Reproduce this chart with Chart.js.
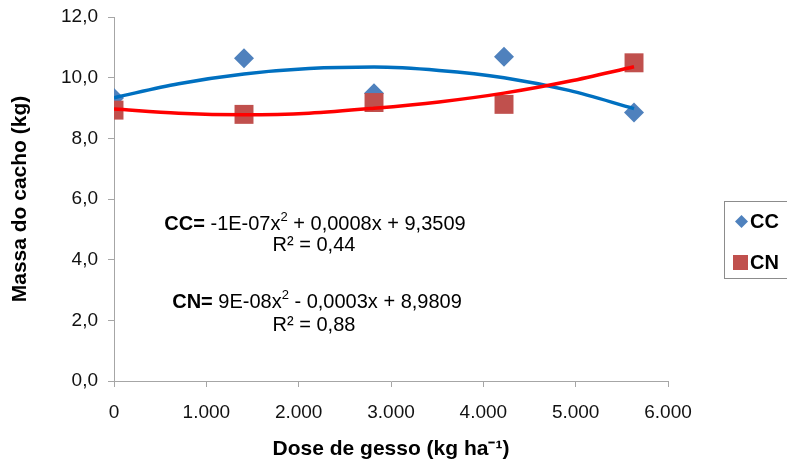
<!DOCTYPE html>
<html>
<head>
<meta charset="utf-8">
<script src="https://cdn.jsdelivr.net/npm/chart.js@4/dist/chart.umd.min.js"></script>
<style>
html,body{margin:0;padding:0;background:#fff;}
#wrap{position:relative;width:787px;height:463px;}
canvas{display:block;}
</style>
</head>
<body>
<div id="wrap"><canvas id="c" width="787" height="463"></canvas></div>
<script>
// Data
const doses = [0, 1408, 2816, 4224, 5632];
const ccValues = [9.33, 10.64, 9.49, 10.69, 8.85];
const cnValues = [8.93, 8.79, 9.18, 9.12, 10.49];
const trendX = [0, 700, 1408, 2112, 2816, 3520, 4224, 4928, 5632];
const ccTrend = [9.34, 9.80, 10.12, 10.30, 10.35, 10.24, 10.00, 9.58, 8.98];
const cnTrend = [8.97, 8.83, 8.78, 8.83, 8.99, 9.20, 9.49, 9.88, 10.36];
const seriesNames = ['CC', 'CN'];
const xTicks = [0, 1000, 2000, 3000, 4000, 5000, 6000];
const yTicks = [0, 2, 4, 6, 8, 10, 12];
const equations = [
  {name: 'CC=', eq: [' -1E-07x', '2', ' + 0,0008x + 9,3509'], r2: 'R² = 0,44'},
  {name: 'CN=', eq: [' 9E-08x', '2', ' - 0,0003x + 8,9809'], r2: 'R² = 0,88'}
];

const toXY = (xs, ys) => xs.map((x, i) => ({x: x, y: ys[i]}));
const FONT = '"Liberation Sans", Arial, sans-serif';
const fmtX = v => v === 0 ? '0' : (v / 1000).toFixed(0) + '.000';
const fmtY = v => v.toFixed(1).replace('.', ',');

const overlay = {
  id: 'overlay',
  afterDraw(chart) {
    const ctx = chart.ctx;
    ctx.save();
    ctx.fillStyle = '#000';
    ctx.textBaseline = 'middle';
    const centers = [315, 317];
    const r2c = [314, 314];
    const ys = [[224, 245], [302, 325]];
    equations.forEach((e, i) => {
      const bold = 'bold 20px ' + FONT;
      const norm = '20px ' + FONT;
      const sup = '13px ' + FONT;
      ctx.font = bold; const w0 = ctx.measureText(e.name).width;
      ctx.font = norm; const w1 = ctx.measureText(e.eq[0]).width;
      ctx.font = sup; const w2 = ctx.measureText(e.eq[1]).width;
      ctx.font = norm; const w3 = ctx.measureText(e.eq[2]).width;
      let x = centers[i] - (w0 + w1 + w2 + w3) / 2;
      const y = ys[i][0];
      ctx.textAlign = 'left';
      ctx.font = bold; ctx.fillText(e.name, x, y); x += w0;
      ctx.font = norm; ctx.fillText(e.eq[0], x, y); x += w1;
      ctx.font = sup; ctx.fillText(e.eq[1], x, y - 7); x += w2;
      ctx.font = norm; ctx.fillText(e.eq[2], x, y);
      ctx.textAlign = 'center';
      ctx.fillText(e.r2, r2c[i], ys[i][1]);
    });
    // legend
    ctx.strokeStyle = '#8c8c8c';
    ctx.lineWidth = 1;
    ctx.strokeRect(724.5, 201.5, 80, 77);
    ctx.fillStyle = '#4F81BD';
    ctx.beginPath();
    ctx.moveTo(741.5, 215); ctx.lineTo(748, 221.5); ctx.lineTo(741.5, 228); ctx.lineTo(735, 221.5); ctx.closePath();
    ctx.fill();
    ctx.fillStyle = '#C0504D';
    ctx.fillRect(733, 255, 15, 15);
    ctx.fillStyle = '#000';
    ctx.font = 'bold 20px ' + FONT;
    ctx.textAlign = 'left';
    ctx.fillText(seriesNames[0], 750, 222);
    ctx.fillText(seriesNames[1], 750, 263);
    ctx.restore();
  }
};

new Chart(document.getElementById('c'), {
  type: 'scatter',
  data: {
    datasets: [
      {label: 'CN trend', data: toXY(trendX, cnTrend), showLine: true, borderColor: '#FF0000', borderWidth: 3.5, pointRadius: 0, tension: 0.4, cubicInterpolationMode: 'monotone', order: 0},
      {label: 'CC trend', data: toXY(trendX, ccTrend), showLine: true, borderColor: '#0070C0', borderWidth: 3.5, pointRadius: 0, tension: 0.4, cubicInterpolationMode: 'monotone', order: 1},
      {label: seriesNames[0], data: toXY(doses, ccValues), pointStyle: 'rectRot', pointRadius: 10, backgroundColor: '#4F81BD', borderColor: '#4F81BD', borderWidth: 0, order: 3},
      {label: seriesNames[1], data: toXY(doses, cnValues), pointStyle: 'rect', pointRadius: 13.4, backgroundColor: '#C0504D', borderColor: '#C0504D', borderWidth: 0, order: 2}
    ]
  },
  options: {
    responsive: false,
    animation: false,
    events: [],
    layout: {padding: {left: 0, top: 17, right: 119, bottom: 0}},
    plugins: {legend: {display: false}, tooltip: {enabled: false}},
    scales: {
      x: {
        type: 'linear', min: 0, max: 6000,
        afterBuildTicks: s => { s.ticks = xTicks.map(v => ({value: v})); },
        afterFit: s => { s.height = 82; },
        border: {display: true, color: '#a6a6a6', width: 1},
        grid: {drawOnChartArea: false, drawTicks: true, tickLength: 6, color: '#a6a6a6'},
        ticks: {color: '#111', font: {family: FONT, size: 19}, padding: 14, maxRotation: 0, callback: v => fmtX(v)},
        title: {display: true, text: 'Dose de gesso (kg ha⁻¹)', color: '#000', font: {family: FONT, size: 21, weight: 'bold'}, padding: {top: 10, bottom: 1}}
      },
      y: {
        type: 'linear', min: 0, max: 12,
        afterBuildTicks: s => { s.ticks = yTicks.map(v => ({value: v})); },
        afterFit: s => { s.width = 114; s.paddingTop = 0; s.paddingBottom = 0; },
        border: {display: true, color: '#a6a6a6', width: 1},
        grid: {drawOnChartArea: false, drawTicks: true, tickLength: 6, color: '#a6a6a6'},
        ticks: {color: '#111', font: {family: FONT, size: 19, lineHeight: 1}, padding: 10, callback: v => fmtY(v)},
        title: {display: true, text: 'Massa do cacho (kg)', color: '#000', font: {family: FONT, size: 21, weight: 'bold'}, padding: {top: 8, bottom: 8}}
      }
    }
  },
  plugins: [overlay]
});
</script>
</body>
</html>
